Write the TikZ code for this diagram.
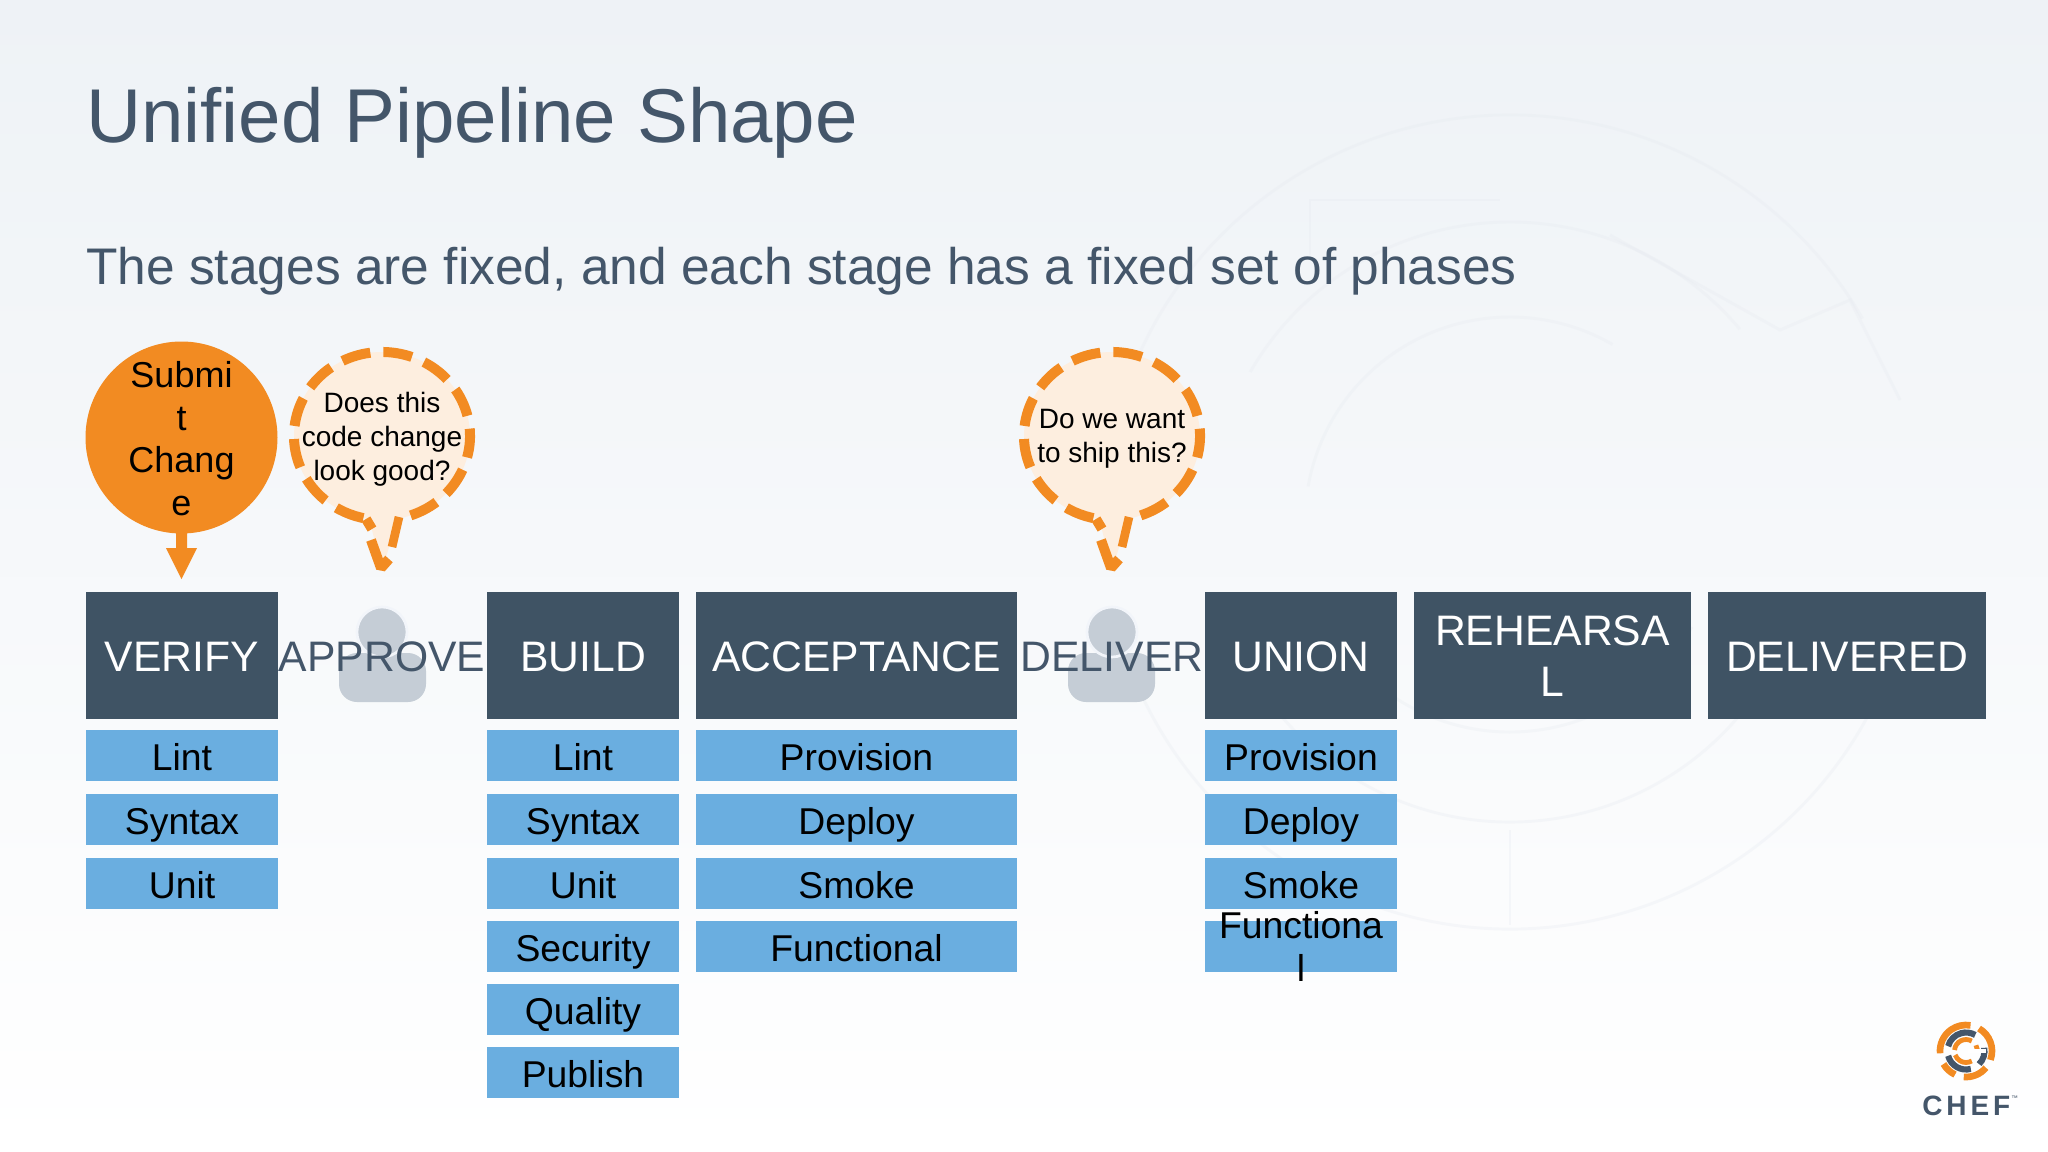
\documentclass[tikz,border=0pt]{standalone}
\usepackage{fontspec}
\setmainfont{Liberation Sans}
\newfontfamily\logofont[LetterSpace=14]{Liberation Sans}
\usetikzlibrary{calc}
\definecolor{bgTop}{HTML}{EEF2F6}
\definecolor{bgMid}{HTML}{F2F5FA}
\definecolor{stageC}{HTML}{3F5364}
\definecolor{inkC}{HTML}{44566A}
\definecolor{phaseC}{HTML}{6AAEE0}
\definecolor{orangeC}{HTML}{F28B22}
\definecolor{bubbleC}{HTML}{FDEEDF}
\definecolor{personC}{HTML}{C5CDD6}
\definecolor{markC}{HTML}{E6EAF0}
\definecolor{logoDark}{HTML}{44566A}
\tikzset{
  x=0.75pt,y=-0.75pt,
  stagebox/.style={fill=stageC,text=white,inner sep=0pt,align=center,minimum height=127*.75pt,font=\fontsize{32}{38}\selectfont},
  oneline/.style={text height=24.2pt,text depth=0pt},
  gatelabel/.style={text=inkC,inner sep=0pt,font=\fontsize{32}{38}\selectfont,oneline},
  phasebox/.style={fill=phaseC,text=black,inner sep=0pt,minimum height=51*.75pt,font=\fontsize{28}{32.3}\selectfont,text height=23.2pt,text depth=0pt},
  phasetext/.style={text=black,inner sep=0pt,align=center,font=\fontsize{28}{32.3}\selectfont},
  bubblefill/.style={fill=bubbleC,draw=none},
  bubbleline/.style={draw=orangeC,line width=7.5pt,dash pattern=on 21.8pt off 9.8pt},
  tailline/.style={draw=orangeC,line width=7.5pt},
  bubbletext/.style={text=black,inner sep=0pt,align=center,font=\fontsize{21}{25.5}\selectfont},
  person/.style={fill=personC,draw=none},
  watermark/.style={draw=markC,line width=2.2pt,opacity=.3},
}
\begin{document}
\begin{tikzpicture}
\useasboundingbox (0,0) rectangle (2048,1152);
% background
\shade[top color=bgTop,middle color=bgMid,bottom color=white,shading angle=0] (0,0) rectangle (2048,1152);
% faint watermark
\draw[watermark] (1510,522) ++(-160:407) arc[start angle=-160,end angle=-30,radius=407];
\draw[watermark] (1510,522) ++(20:407) arc[start angle=20,end angle=160,radius=407];
\draw[watermark] (1510,522) ++(-150:300) arc[start angle=-150,end angle=-40,radius=300];
\draw[watermark] (1510,522) ++(25:300) arc[start angle=25,end angle=150,radius=300];
\draw[watermark] (1510,522) ++(-170:205) arc[start angle=-170,end angle=-60,radius=205];
\draw[watermark] (1510,522) ++(30:210) arc[start angle=30,end angle=150,radius=210];
\draw[watermark] (1510,830) -- (1510,925) (1310,255) -- (1310,200) -- (1500,200);
\draw[watermark] (1610,235) -- (1780,330) -- (1850,300) -- (1900,400);

% title
\node[anchor=base west,inner sep=0pt,text=inkC,font=\fontsize{57.2}{60}\selectfont] (title) at (86,143) {Unified Pipeline Shape};
\node[anchor=base west,inner sep=0pt,text=inkC,font=\fontsize{38.6}{44}\selectfont] (subtitle) at (86,284) {The stages are fixed, and each stage has a fixed set of phases};

% persons
\fill[person,rounded corners=18*.75pt] (339,702) -- (339,653) -- (426,653) -- (426,702) -- cycle;
\draw[person,draw=bgMid,line width=2pt] (382,632) circle[radius=25];
\fill[person,rounded corners=18*.75pt] (1068,702) -- (1068,653) -- (1155,653) -- (1155,702) -- cycle;
\draw[person,draw=bgMid,line width=2pt] (1112,632) circle[radius=25];

% stages
\node[stagebox,oneline,minimum width=192*.75pt] (verify) at (182,655.5) {VERIFY};
\node[gatelabel] (approve) at (382,655.5) {APPROVE};
\node[stagebox,oneline,minimum width=192*.75pt] (build) at (583,655.5) {BUILD};
\node[stagebox,oneline,minimum width=321*.75pt] (acceptance) at (856.5,655.5) {ACCEPTANCE};
\node[gatelabel] (deliver) at (1112,655.5) {DELIVER};
\node[stagebox,oneline,minimum width=192*.75pt] (union) at (1301,655.5) {UNION};
\node[stagebox,minimum width=277*.75pt] (rehearsal) at (1552.5,655.5) {};
\node[text=white,inner sep=0pt,align=center,font=\fontsize{32}{38}\selectfont] (rehearsaltext) at (1552.5,656) {REHEARSA\\L};
\node[stagebox,oneline,minimum width=278*.75pt] (delivered) at (1847,655.5) {DELIVERED};

% phases
\foreach \n/\y/\t in {a/755.5/Lint,b/819.5/Syntax,c/883/Unit}
  \node[phasebox,minimum width=192*.75pt] (v\n) at (182,\y) {\t};
\foreach \n/\y/\t in {a/755.5/Lint,b/819.5/Syntax,c/883/Unit,d/946.5/Security,e/1009/Quality,f/1072.5/Publish}
  \node[phasebox,minimum width=192*.75pt] (b\n) at (583,\y) {\t};
\foreach \n/\y/\t in {a/755.5/Provision,b/819.5/Deploy,c/883/Smoke,d/946.5/Functional}
  \node[phasebox,minimum width=321*.75pt] (a\n) at (856.5,\y) {\t};
\foreach \n/\y/\t in {a/755.5/Provision,b/819.5/Deploy,c/883/Smoke}
  \node[phasebox,minimum width=192*.75pt] (u\n) at (1301,\y) {\t};
\node[phasebox,minimum width=192*.75pt] (ud) at (1301,946.5) {};
\node[phasetext] (udtext) at (1301,946) {Functiona\\l};

% submit change
\fill[orangeC] (176,525) -- (187,525) -- (187,548) -- (197,548) -- (181.5,579) -- (166,548) -- (176,548) -- cycle;
\node[circle,fill=orangeC,inner sep=0pt,minimum size=192*.75pt] (submit) at (181.5,437.5) {};
\node[text=black,inner sep=0pt,align=center,font=\fontsize{27}{32}\selectfont] (submittext) at (181.5,438.5) {Submi\\t\\Chang\\e};

% bubbles
\foreach \c/\t/\n in {382/{Does this\\code change\\look good?}/approveq,1112/{Do we want\\to ship this?}/deliverq}{
  \begin{scope}[shift={(\c,0)}]
  \fill[bubblefill] (0,436) ellipse[x radius=88,y radius=84];
  \fill[bubblefill] (-15,515) -- (-10,530) -- (0,570) -- (17,515) -- cycle;
  \draw[bubbleline] (0,436) ++(71:88 and 84) arc[start angle=71,end angle=-260,x radius=88,y radius=84];
  \draw[tailline] (-16,519) -- (-10,529);
  \draw[tailline,line join=bevel] (-11,540) -- (-1,568) -- (7,559);
  \draw[tailline,line width=6.5pt] (17,517) -- (10,547);
  \node[bubbletext] (\n) at (0,439) {\t};
  \end{scope}
}

% logo
\begin{scope}[shift={(1966,1051)},line cap=butt]
\foreach \a/\b in {-60/20,40/95,115/150,175/280}
  \draw[orangeC,line width=5pt] (\a:26) arc[start angle=\a,end angle=\b,radius=26];
\foreach \a/\b in {-10/45,75/165,195/300}
  \draw[logoDark,line width=4.6pt] (\a:18.5) arc[start angle=\a,end angle=\b,radius=18.5];
\foreach \a/\b in {-30/-5,60/160,185/300}
  \draw[orangeC,line width=3.6pt] (\a:11.5) arc[start angle=\a,end angle=\b,radius=11.5];
\draw[white,line width=3pt] (2,0) -- (20,0);
\end{scope}
\node[anchor=base west,inner sep=0pt,text=logoDark,font=\logofont\bfseries\fontsize{21}{22}\selectfont] (cheflogo) at (1922,1115) {CHEF};
\node[anchor=base west,inner sep=0pt,text=logoDark,font=\fontsize{5}{6}\selectfont] (cheftm) at (2011,1100) {™};
\end{tikzpicture}
\end{document}
